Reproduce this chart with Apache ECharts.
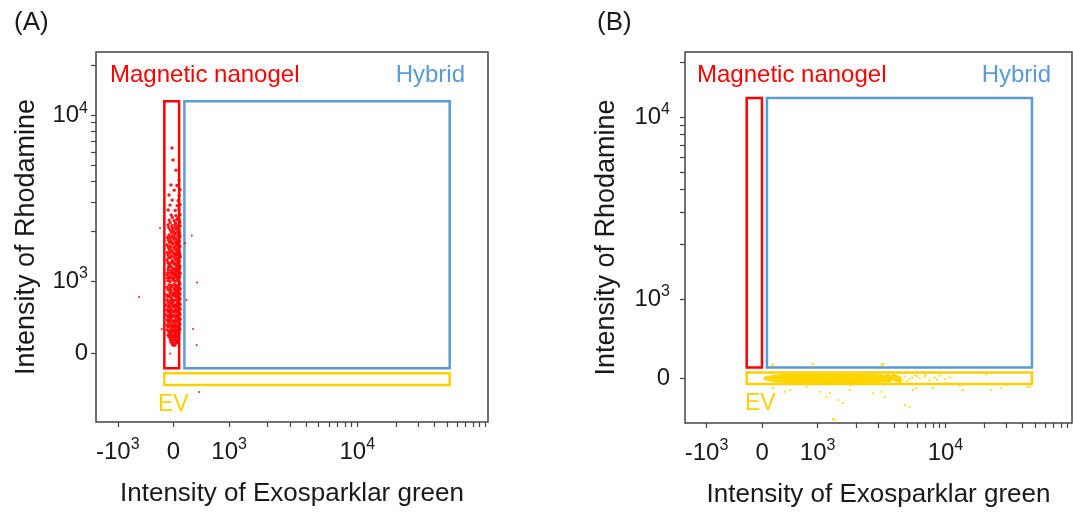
<!DOCTYPE html>
<html><head><meta charset="utf-8">
<script src="https://cdn.jsdelivr.net/npm/echarts@6/dist/echarts.min.js"></script>
<style>html,body{margin:0;padding:0;background:#fff}#c{width:1073px;height:514px}</style>
</head><body><div id="c"></div>
<script>
// ---------- tick values / labels (real intensity units) ----------
const xLabelValues = [-1000, 0, 1000, 10000];
const xLabelTexts  = ['-10{s|3}', '0', '10{s|3}', '10{s|4}'];
const yLabelValues = [0, 1000, 10000];
const yLabelTexts  = ['0', '10{s|3}', '10{s|4}'];
const xTickValues = [-1000, 0, 1000, 2000, 3000, 4000, 5000, 6000, 7000, 8000, 9000,
  10000, 20000, 30000, 40000, 50000, 60000, 70000, 80000, 90000, 100000];
const yTickValues = [0, 1000, 2000, 3000, 4000, 5000, 6000, 7000, 8000, 9000, 10000, 20000];

// ---------- gates [x1, y1, x2, y2] (real units) ----------
const gateNanogelA = [-164, -211, 101, 12130];
const gateHybridA  = [196, -211, 52600, 12130];
const gateEVA      = [-164, -442, 52600, -280];
const gateNanogelB = [-277, 135, -2, 12700];
const gateHybridB  = [88, 135, 47500, 12700];
const gateEVB      = [-277, -76, 47500, 72];

// ---------- events, panel A (magnetic nanogel only) [green, rhodamine] ----------
const nanogelPoints = [
[-20,115],[14,108],[32,120],
[-45,150],[-5,145],[44,155],[63,148],
[-58,185],[-22,178],[9,190],[50,182],[80,176],
[-76,222],[-40,215],[-9,228],[31,218],[62,225],[98,212],
[-95,250],[-60,256],[-27,246],[13,252],[45,260],[85,248],
[-82,290],[-41,284],[-5,296],[27,288],[67,293],[103,282],
[-112,322],[-63,315],[-23,328],[9,318],[49,325],[81,312],[117,330],
[-99,362],[-45,356],[-9,368],[31,352],[63,364],[99,358],
[-118,392],[-77,385],[-27,398],[13,388],[45,395],[85,382],[116,401],
[-95,432],[-59,425],[-5,438],[27,428],[67,435],[103,422],
[-113,462],[-81,455],[-41,468],[9,452],[49,465],[81,458],[121,470],
[-99,502],[-63,495],[-23,508],[31,498],[63,505],[99,492],
[-131,530],[-77,522],[-45,536],[-9,526],[49,532],[85,520],[117,540],
[-95,572],[-59,565],[-27,578],[13,568],[67,575],[103,562],
[-117,600],[-81,592],[-41,608],[27,596],[49,605],[81,590],[121,612],
[-99,642],[-63,635],[-5,648],[9,638],[63,645],[99,632],
[-135,670],[-77,662],[-23,676],[31,665],[45,672],[85,660],[117,680],
[-95,702],[-45,695],[-9,708],[67,698],[103,690],
[-113,738],[-59,730],[-27,745],[13,735],[49,740],[81,728],[121,750],
[-99,782],[-41,775],[27,788],[63,778],[99,770],
[-117,808],[-77,800],[-23,815],[9,805],[45,812],[85,798],[117,820],
[-63,842],[-5,835],[31,848],[67,838],[103,830],
[-95,878],[-45,870],[13,885],[49,872],[81,866],[121,890],
[-113,912],[-63,905],[-27,920],[27,908],[63,915],[99,900],
[-81,948],[-41,940],[9,955],[45,942],[85,935],[117,960],
[-99,1005],[-59,990],[-9,1015],[31,998],[67,1010],[103,985],
[-108,1045],[-70,1040],[-36,1050],[2,1035],[38,1055],[74,1045],[110,1060],
[-117,1090],[-77,1075],[-27,1100],[13,1080],[45,1095],[81,1070],[121,1110],
[-104,1125],[-62,1120],[-18,1130],[20,1115],[56,1135],[92,1125],
[-95,1170],[-45,1155],[-5,1180],[27,1160],[63,1175],[99,1150],
[-90,1205],[-32,1210],[38,1200],[72,1215],[108,1195],
[-81,1250],[-59,1235],[9,1265],[49,1245],[85,1255],[117,1230],
[-100,1290],[-52,1285],[-4,1300],[40,1280],[92,1295],
[-113,1340],[-23,1325],[31,1355],[67,1335],[103,1320],
[-86,1385],[-50,1380],[4,1395],[58,1375],[112,1390],
[-99,1435],[-41,1420],[13,1450],[45,1430],[81,1445],[121,1415],
[-110,1485],[-64,1480],[-14,1490],[36,1475],[72,1495],[108,1470],
[-77,1540],[-27,1525],[27,1555],[63,1535],[99,1520],
[-90,1595],[-40,1590],[16,1600],[76,1585],[110,1605],
[-117,1650],[-63,1630],[-9,1665],[49,1640],[85,1655],[117,1625],
[-74,1710],[-30,1705],[28,1715],[56,1700],[96,1720],
[-95,1770],[-45,1750],[9,1785],[67,1760],[103,1745],
[-104,1830],[-56,1825],[0,1840],[46,1820],[110,1835],
[-81,1895],[-23,1875],[31,1910],[85,1885],[117,1870],
[-36,1960],[18,1955],[72,1970],[108,1950],
[-59,2030],[-5,2010],[49,2050],[99,2020],
[-84,2100],[-16,2090],[38,2110],[90,2095],
[-99,2175],[-27,2155],[27,2195],[81,2165],[121,2150],
[-60,2250],[40,2240],[112,2260],
[-77,2330],[13,2310],[63,2350],[103,2320],
[-20,2420],[80,2400],
[-41,2500],[45,2480],[117,2520],
[-95,2680],[31,2660],[99,2700],
[-63,2870],[67,2850],[121,2890],
[-23,3075],[85,3050],
[-81,3300],[103,3280],
[13,3530],[117,3560],
[-45,3790],[63,3770],
[99,4060],[45,4660],[-9,5360],[-27,6340]
];
const nanogelOutliers = [
[-619,778],[209,1694],[329,1880],[-241,2085],[425,979],[236,736],
[353,334],[416,112],[-61,-6],[461,-540],[-211,334]
];

// ---------- events, panel B (EV) [green, rhodamine] ----------
const evCorePoints = [
// left tip
[59,-2],[113,4],[113,-14],[167,12],[167,-20],[221,18],[221,-8],[221,-30],[275,22],[275,-4],[275,-34],
// dense band, upper row
[329,24],[383,28],[437,30],[491,34],[545,30],[599,36],[653,31],[707,35],[761,29],[815,33],[869,37],[923,30],
[977,34],[1023,31],[1080,36],[1138,29],[1201,33],[1270,37],[1340,30],[1413,34],[1493,31],[1576,36],[1662,29],
[1756,33],[1852,35],[1955,30],[2065,34],[2178,28],[2300,32],[2430,26],[2561,30],[2705,24],[2855,27],[3010,22],
[3180,25],[3355,20],
// middle row
[329,-4],[383,-8],[437,-2],[491,-7],[545,-5],[599,-9],[653,-3],[707,-6],[761,-8],[815,-4],[869,-7],[923,-2],
[977,-6],[1023,-9],[1080,-3],[1138,-7],[1201,-5],[1270,-8],[1340,-2],[1413,-6],[1493,-9],[1576,-4],[1662,-7],
[1756,-3],[1852,-6],[1955,-8],[2065,-4],[2178,-7],[2300,-2],[2430,-6],[2561,-9],[2705,-4],[2855,-7],[3010,-3],
[3180,-6],[3355,-5],
// lower row
[329,-30],[383,-34],[437,-38],[491,-42],[545,-40],[599,-45],[653,-41],[707,-46],[761,-43],[815,-47],[869,-42],
[923,-45],[977,-48],[1023,-43],[1080,-46],[1138,-41],[1201,-47],[1270,-44],[1340,-48],[1413,-42],[1493,-46],
[1576,-43],[1662,-47],[1756,-41],[1852,-45],[1955,-42],[2065,-46],[2178,-40],[2300,-44],[2430,-38],[2561,-42],
[2705,-36],[2855,-40],[3010,-34],[3180,-38],[3355,-32],
// fill between rows
[570,13],[680,-25],[790,14],[900,-24],[1050,12],[1170,-26],[1300,15],[1450,-23],[1620,13],[1800,-25],
[2010,14],[2240,-24],[2500,12],
// tail
[3540,28],[3540,-4],[3540,-40],[3735,12],[3735,-22],[3945,30],[3945,-8],[4165,-30],[4165,15],[4393,0],[4393,-38]
];
const evSparsePoints = [
[4810,22],[5259,-14],[5750,35],[6295,-2],[6890,18],[7535,-28],[8250,6],[9020,30],[9870,-12],[10797,8],
[5000,-40],[7000,40],[6000,24],[8600,-20],[4600,-24],[5500,5],
[173,164],[916,177],[3162,164],[3236,177],[412,-173],[1042,-173],[1577,-316],[1317,-519],[4806,-342],
[22860,-152],[43950,-110],[29970,-89],[3162,-173],[3357,-237],[5553,-152],[7958,-127],[12930,-97],[20900,47],
[27380,-127],[196,-127],[502,-152],[803,-110],[1788,-152],[1247,-190],[1820,-89],[2718,-194],[5930,-130],
[13730,-152],[46000,-110],[1449,-278],[1176,-237],[5260,-362],[1364,-531],[202,173],[922,177],[3260,173]
];

// ---------- linear/log hybrid display transform ----------
function T(v) { return v >= 1000 ? Math.log10(v) : 3 + (v - 1000) / (1000 * Math.LN10); }
const tp = p => [T(p[0]), T(p[1])];

const RED = '#FF0000', BLUE = '#5B9BD5', YEL = '#FFD000', PTYEL = '#FFD500';
const FONT = '"Liberation Sans", Arial, sans-serif';
const TXT = '#1a1a1a';

function gateArea(g, color) {
  return [{ coord: [T(g[0]), T(g[1])], itemStyle: { color: 'rgba(0,0,0,0)', borderColor: color, borderWidth: 2.5 } },
          { coord: [T(g[2]), T(g[3])] }];
}
function labelFmt(values, texts) {
  return function (v) {
    for (let i = 0; i < values.length; i++) if (Math.abs(T(values[i]) - v) < 1e-6) return texts[i];
    return '';
  };
}
const supRich = { s: { fontSize: 16, color: TXT, fontFamily: FONT, verticalAlign: 'top', lineHeight: 14 } };
function makeX(gridIndex, min, max) {
  const lo = T(min), hi = T(max);
  return {
    type: 'value', gridIndex, min: lo, max: hi,
    name: 'Intensity of Exosparklar green', nameLocation: 'middle', nameGap: 59,
    nameTextStyle: { fontSize: 26, color: TXT, fontFamily: FONT },
    splitLine: { show: false }, axisLine: { show: false },
    axisTick: { show: true, length: 5, customValues: xTickValues.map(T).filter(u => u >= lo && u <= hi),
      lineStyle: { color: '#444', width: 1.2 } },
    axisLabel: { show: true, margin: 15, lineHeight: 30, customValues: xLabelValues.map(T),
      formatter: labelFmt(xLabelValues, xLabelTexts), fontSize: 24, color: TXT, fontFamily: FONT, rich: supRich }
  };
}
function makeY(gridIndex, min, max, gap, margin) {
  const lo = T(min), hi = T(max);
  return {
    type: 'value', gridIndex, min: lo, max: hi,
    name: 'Intensity of Rhodamine', nameLocation: 'middle', nameGap: gap,
    nameTextStyle: { fontSize: 27, color: TXT, fontFamily: FONT },
    splitLine: { show: false }, axisLine: { show: false },
    axisTick: { show: true, length: 5, customValues: yTickValues.map(T).filter(u => u >= lo && u <= hi),
      lineStyle: { color: '#444', width: 1.2 } },
    axisLabel: { show: true, margin: margin, lineHeight: 30, customValues: yLabelValues.map(T),
      formatter: labelFmt(yLabelValues, yLabelTexts), fontSize: 24, color: TXT, fontFamily: FONT, rich: supRich }
  };
}
function txt(x, y, text, color, size, align) {
  return { type: 'text', x, y, silent: true,
    style: { text, fill: color, font: size + 'px ' + FONT, align: align || 'left', verticalAlign: 'middle' } };
}

const chart = echarts.init(document.getElementById('c'), null, { renderer: 'canvas' });
chart.setOption({
  animation: false,
  backgroundColor: '#fff',
  grid: [
    { left: 96, top: 52, width: 392, height: 370, show: true, borderColor: '#444', borderWidth: 1.5, backgroundColor: 'transparent' },
    { left: 685, top: 52, width: 387, height: 371, show: true, borderColor: '#444', borderWidth: 1.5, backgroundColor: 'transparent' }
  ],
  xAxis: [makeX(0, -1392, 104700), makeX(1, -1388, 97700)],
  yAxis: [makeY(0, -955, 24000, 56, 8), makeY(1, -568, 22750, 65, 15)],
  series: [
    { type: 'scatter', xAxisIndex: 0, yAxisIndex: 0, symbol: 'circle', symbolSize: 3.4,
      itemStyle: { color: RED, opacity: 0.9 }, data: nanogelPoints.map(tp), silent: true, z: 3,
      markArea: { silent: true, label: { show: false },
        data: [gateArea(gateNanogelA, RED), gateArea(gateHybridA, BLUE), gateArea(gateEVA, YEL)] } },
    { type: 'scatter', xAxisIndex: 0, yAxisIndex: 0, symbol: 'circle', symbolSize: 2.2,
      itemStyle: { color: RED, opacity: 0.8 }, data: nanogelOutliers.map(tp), silent: true, z: 3 },
    { type: 'scatter', xAxisIndex: 1, yAxisIndex: 1, symbol: 'circle', symbolSize: 4.2,
      itemStyle: { color: PTYEL, opacity: 1 }, data: evCorePoints.map(tp), silent: true, z: 3,
      markArea: { silent: true, label: { show: false },
        data: [gateArea(gateNanogelB, RED), gateArea(gateHybridB, BLUE), gateArea(gateEVB, YEL)] } },
    { type: 'scatter', xAxisIndex: 1, yAxisIndex: 1, symbol: 'circle', symbolSize: 2.2,
      itemStyle: { color: PTYEL, opacity: 0.9 }, data: evSparsePoints.map(tp), silent: true, z: 3 }
  ],
  graphic: [
    txt(14, 23, '(A)', TXT, 26), txt(597, 23, '(B)', TXT, 26),
    txt(110, 75, 'Magnetic nanogel', RED, 24), txt(465, 75, 'Hybrid', BLUE, 24, 'right'),
    txt(158, 405, 'EV', YEL, 23),
    txt(697, 75, 'Magnetic nanogel', RED, 24), txt(1051, 75, 'Hybrid', BLUE, 24, 'right'),
    txt(745, 404, 'EV', YEL, 23)
  ]
});
</script></body></html>
